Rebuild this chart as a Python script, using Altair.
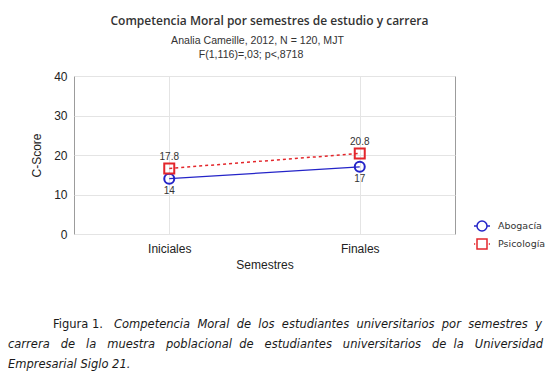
import altair as alt
import pandas as pd

# ---------------- data ----------------
semestres = ["Iniciales", "Finales"]
carreras = ["Abogacía", "Psicología"]
abogacia = [14.0, 17.0]
psicologia = [16.6, 20.4]
abogacia_labels = ["14", "17"]
psicologia_labels = ["17.8", "20.8"]
y_ticks = [0, 10, 20, 30, 40]

title_text = "Competencia Moral por semestres de estudio y carrera"
subtitle_1 = "Analia Cameille, 2012, N = 120, MJT"
subtitle_2 = "F(1,116)=,03; p<,8718"
caption_lead = "Figura 1."
caption_1 = "Competencia Moral de los estudiantes universitarios por semestres y"
caption_2 = "carrera de la muestra poblacional de estudiantes universitarios de la Universidad"
caption_3 = "Empresarial Siglo 21."

rows = []
for c, vals, labs in [(carreras[0], abogacia, abogacia_labels),
                      (carreras[1], psicologia, psicologia_labels)]:
    for s, v, l in zip(semestres, vals, labs):
        rows.append({"Semestre": s, "Carrera": c, "Valor": v, "Etiqueta": l})
df = pd.DataFrame(rows)

# ---------------- style ----------------
BLUE = "#2424c8"
RED = "#e3262b"
TXT = "#222222"
W, H = 381, 158
SANS = "Liberation Sans"

x = alt.X("Semestre:N", sort=semestres,
          scale=alt.Scale(type="point", padding=0.5),
          axis=alt.Axis(title="Semestres", labelAngle=0, ticks=False, domain=False,
                        grid=True, gridColor="#e4e4e4",
                        labelFont=SANS, labelFontSize=12, labelColor=TXT, labelPadding=9,
                        titleFont=SANS, titleFontSize=12, titleFontWeight="normal",
                        titleColor=TXT, titlePadding=5))
y = alt.Y("Valor:Q",
          scale=alt.Scale(domain=[0, 40], nice=False, zero=True),
          axis=alt.Axis(title="C-Score", values=y_ticks, ticks=False, domain=False,
                        grid=True, gridColor="#e4e4e4",
                        labelFont=SANS, labelFontSize=12, labelColor=TXT, labelPadding=7,
                        titleFont=SANS, titleFontSize=12, titleFontWeight="normal",
                        titleColor=TXT, titlePadding=10))

base = alt.Chart(df)
ab = base.transform_filter(alt.datum.Carrera == carreras[0])
ps = base.transform_filter(alt.datum.Carrera == carreras[1])

line_ab = ab.mark_line(color=BLUE, strokeWidth=1.2).encode(x=x, y=y)
line_ps = ps.mark_line(color=RED, strokeWidth=1.5, strokeDash=[3, 3]).encode(x=x, y=y)
pt_ab = ab.mark_point(shape="circle", filled=False, color=BLUE, size=100,
                      strokeWidth=2, opacity=1).encode(x=x, y=y)
pt_ps = ps.mark_point(shape="square", filled=False, color=RED, size=100,
                      strokeWidth=2, opacity=1).encode(x=x, y=y)
lab_ab = ab.mark_text(dy=12, font=SANS, fontSize=10, color="#333").encode(
    x=x, y=y, text="Etiqueta:N")
lab_ps = ps.mark_text(dy=-11, font=SANS, fontSize=10, color="#333").encode(
    x=x, y=y, text="Etiqueta:N")

# legend symbols: line stubs + marker
path_ab = ("M-1,0L-0.625,0M0.625,0L1,0"
           "M0.625,0A0.625,0.625,0,1,1,-0.625,0A0.625,0.625,0,1,1,0.625,0")
path_ps = ("M-1,0L-0.85,0M0.85,0L1,0"
           "M-0.625,-0.625L0.625,-0.625L0.625,0.625L-0.625,0.625Z")

leg = alt.Legend(title=None, orient="none", legendX=399, legendY=141,
                 labelFont="DejaVu Sans", labelFontSize=9.5, labelColor="#333",
                 symbolSize=256, symbolStrokeWidth=1.5, labelOffset=7,
                 rowPadding=1, padding=0, symbolFillColor="transparent")

legend_layer = base.transform_filter("false").mark_point(
    filled=False, strokeWidth=1.5, opacity=1).encode(
    x=x, y=y,
    shape=alt.Shape("Carrera:N", scale=alt.Scale(domain=carreras, range=[path_ab, path_ps]),
                    legend=leg),
    color=alt.Color("Carrera:N", scale=alt.Scale(domain=carreras, range=[BLUE, RED]),
                    legend=leg),
)


def justify(text, extra):
    """Widen word gaps with non-breaking spaces (text is justified in the source)."""
    words = text.split(" ")
    out = words[0]
    for i, w in enumerate(words[1:]):
        n = extra[i] if i < len(extra) else 0
        out += "\u00a0" * n + " " + w
    return out


def note(text, px, py, font=SANS, size=11, align="center", weight="normal",
         style="normal", color=TXT):
    return alt.Chart(alt.Data(values=[{}])).mark_text(
        text=text, font=font, fontSize=size, align=align, baseline="middle",
        fontWeight=weight, fontStyle=style, color=color
    ).encode(x=alt.value(px), y=alt.value(py))


notes = [
    note(title_text, 195.5, -55, font="Open Sans", size=12, weight=600, color="#333"),
    note(subtitle_1, 183.5, -35, size=10.6, color="#333"),
    note(subtitle_2, 177, -21, size=10.6, color="#333"),
    note(caption_lead, -21, 249, font="DejaVu Sans", size=11.5, align="left", color="#1a1a1a"),
    note(justify(caption_1, [1] * 8), 40, 249, font="DejaVu Sans", size=11.5, align="left",
         style="italic", color="#1a1a1a"),
    note(justify(caption_2, [2, 2, 2, 2, 1, 2, 2, 2, 1, 2]), -66, 269, font="DejaVu Sans",
         size=11.5, align="left", style="italic", color="#1a1a1a"),
    note(caption_3, -66, 289, font="DejaVu Sans", size=11.5, align="left",
         style="italic", color="#1a1a1a"),
]

chart = alt.layer(line_ab, line_ps, pt_ab, pt_ps, lab_ab, lab_ps, legend_layer, *notes).properties(
    width=W, height=H,
    autosize=alt.AutoSizeParams(type="none"),
    padding={"left": 66, "top": 68, "right": 91, "bottom": 142},
    background="white",
).configure_view(stroke="#9c9c9c", strokeWidth=1)

chart.save("out.html", embed_options={"renderer": "svg", "actions": False})
